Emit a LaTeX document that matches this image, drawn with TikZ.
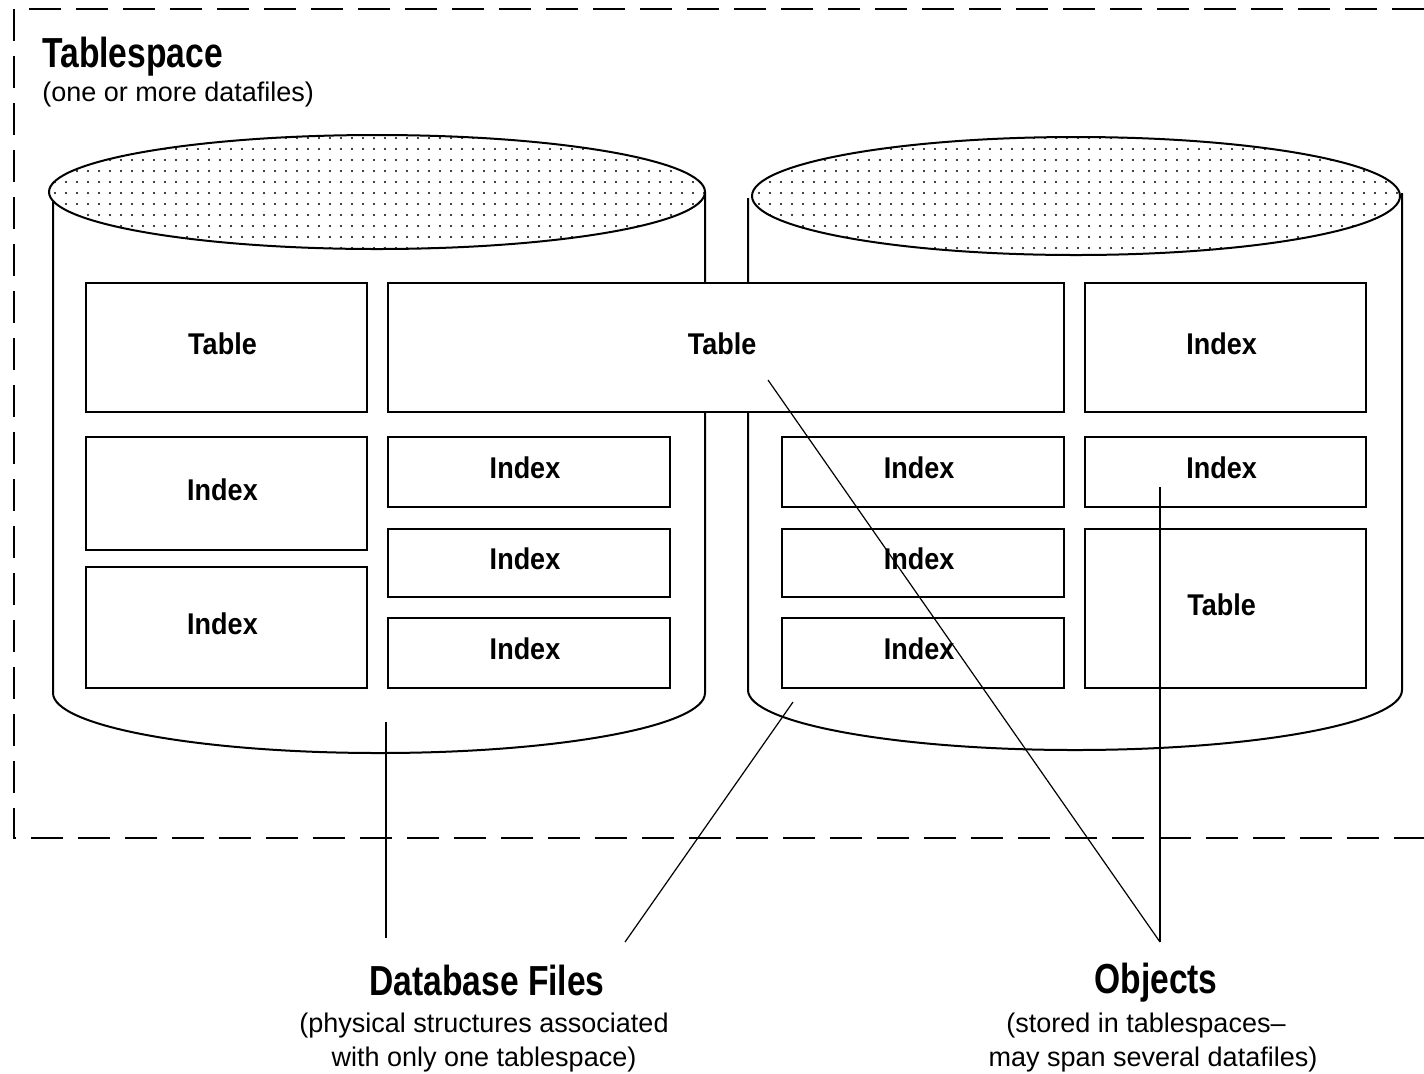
\documentclass[tikz,border=0pt]{standalone}
\usepackage{fontspec}
\setmainfont{Liberation Sans}
\newfontfamily\titlefont{Liberation Sans}[FakeStretch=0.8]
\newfontfamily\boxfont{Liberation Sans}[FakeStretch=0.9]
\usetikzlibrary{patterns.meta}
\begin{document}
\begin{tikzpicture}[x=0.5pt,y=-0.5pt,
  ln/.style={line width=1pt},
  boxnode/.style={draw, line width=1pt, fill=white, inner sep=0pt, outer sep=0pt,
    text height=10.7pt, text depth=3.9pt,
    execute at end node={\hspace{4pt}},
    font=\boxfont\bfseries\fontsize{15}{18}\selectfont},
  cyltop/.style={draw, line width=1pt, pattern={Dots[distance=5.5pt,radius=0.55pt]}},
  titletext/.style={font=\titlefont\bfseries\fontsize{21}{24}\selectfont, inner sep=0pt},
  subtext/.style={font=\fontsize{13.5}{17}\selectfont, inner sep=0pt},
  pointer/.style={line width=0.6pt},
  vpointer/.style={line width=1pt},
  frameline/.style={line width=1pt, dash pattern=on 16pt off 7.5pt}
]
\useasboundingbox (0,0) rectangle (1424,1073);
\fill[white] (0,0) rectangle (1424,1073);

% tablespace frame (open on the right)
\draw[frameline] (1424,9) -- (14,9) -- (14,838) -- (1424,838);

% left cylinder
\draw[ln] (53,202) -- (53,693) .. controls (53,726) and (199,753) .. (379,753)
  .. controls (559,753) and (705,726) .. (705,693) -- (705,192);
\draw[cyltop] (377,192) ellipse [x radius=164pt, y radius=28.5pt];

% right cylinder
\draw[ln] (748,198) -- (748,690) .. controls (748,723) and (895,750) .. (1075,750)
  .. controls (1255,750) and (1402,723) .. (1402,690) -- (1402,193);
\draw[cyltop] (1076,196) ellipse [x radius=162pt, y radius=29.5pt];

% boxes
\node[boxnode, minimum width=140.5pt, minimum height=64.5pt] (tA) at (226.5,347.5) {Table};
\node[boxnode, minimum width=338pt, minimum height=64.5pt] (tB) at (726,347.5) {Table};
\node[boxnode, minimum width=140.5pt, minimum height=64.5pt] (iA) at (1225.5,347.5) {Index};

\node[boxnode, minimum width=140.5pt, minimum height=56.5pt] (iL1) at (226.5,493.5) {Index};
\node[boxnode, minimum width=140.5pt, minimum height=60.5pt] (iL2) at (226.5,627.5) {Index};

\node[boxnode, minimum width=141pt, minimum height=35pt] (iM1) at (529,472) {Index};
\node[boxnode, minimum width=141pt, minimum height=34pt] (iM2) at (529,563) {Index};
\node[boxnode, minimum width=141pt, minimum height=35pt] (iM3) at (529,653) {Index};

\node[boxnode, minimum width=141pt, minimum height=35pt] (iR1) at (923,472) {Index};
\node[boxnode, minimum width=141pt, minimum height=34pt] (iR2) at (923,563) {Index};
\node[boxnode, minimum width=141pt, minimum height=35pt] (iR3) at (923,653) {Index};

\node[boxnode, minimum width=140.5pt, minimum height=35pt] (iRR1) at (1225.5,472) {Index};
\node[boxnode, minimum width=140.5pt, minimum height=79.5pt] (tRR) at (1225.5,608.5) {Table};

% texts
\node[titletext, anchor=base west] (ts) at (42,67) {Tablespace};
\node[subtext, anchor=base west] (tssub) at (42,101) {(one or more datafiles)};

\node[titletext, anchor=base] (dbf) at (487,995) {Database Files};
\node[subtext, anchor=base] (db1) at (484,1032) {(physical structures associated};
\node[subtext, anchor=base] (db2) at (484,1066) {with only one tablespace)};

\node[titletext, anchor=base] (obj) at (1156,993) {Objects};
\node[subtext, anchor=base] (ob1) at (1146,1032) {(stored in tablespaces–};
\node[subtext, anchor=base] (ob2) at (1153,1066) {may span several datafiles)};

% connectors
\coordinate (dbL) at (386,722);
\coordinate (dbR) at (793,702);
\coordinate (dbTipL) at (386,938);
\coordinate (dbTipR) at (625,942);
\coordinate (objA) at (768,380);
\coordinate (objB) at (1160,487);
\coordinate (objTip) at (1160,942);
\draw[vpointer] (dbL) -- (dbTipL);
\draw[pointer] (dbR) -- (dbTipR);
\draw[pointer] (objA) -- (objTip);
\draw[vpointer] (objB) -- (objTip);
\end{tikzpicture}
\end{document}
